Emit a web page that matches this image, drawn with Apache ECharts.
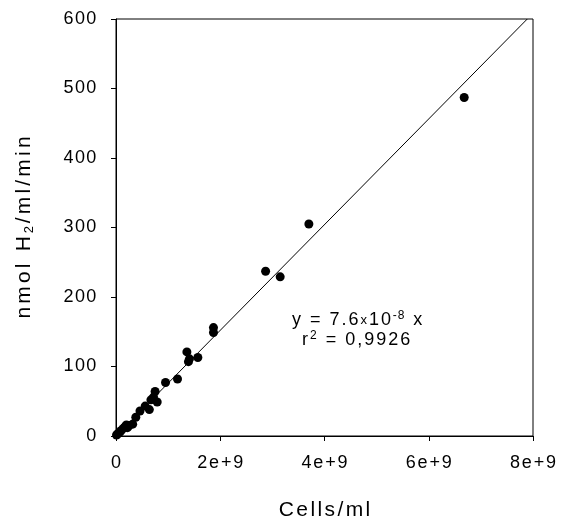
<!DOCTYPE html>
<html>
<head>
<meta charset="utf-8">
<script src="https://cdn.jsdelivr.net/npm/echarts@6/dist/echarts.min.js"></script>
<style>
  html, body { margin: 0; padding: 0; background: #fff; }
  #chart { width: 561px; height: 521px; }
</style>
</head>
<body>
<div id="chart"></div>
<script>
// cell density (cells/ml) and H2 production rate (nmol/ml/min)
var cellsX = [
  0.01e9, 0.03e9, 0.05e9, 0.08e9, 0.1e9, 0.14e9, 0.18e9, 0.2e9, 0.22e9, 0.25e9,
  0.32e9, 0.38e9, 0.46e9, 0.56e9, 0.64e9, 0.67e9, 0.72e9, 0.75e9, 0.79e9, 0.95e9,
  1.18e9, 1.36e9, 1.39e9, 1.41e9, 1.57e9, 1.87e9, 1.87e9, 2.87e9, 3.15e9, 3.70e9,
  6.68e9
];
var h2Rate = [
  1.5, 3, 4, 6, 8, 11, 14, 16, 12, 15,
  17, 27, 36, 43, 38, 52, 56, 64, 49, 77,
  82, 121, 107, 111, 113, 149, 156, 237, 229, 305,
  487
];
// regression line y = 7.6e-8 x, end points
var fitX = [0, 7.89e9];
var fitY = [0, 600];

var xTicks = ['0', '2e+9', '4e+9', '6e+9', '8e+9'];
var yTicks = ['0', '100', '200', '300', '400', '500', '600'];

var font = 'Liberation Sans, Arial, sans-serif';

// the original lettering is loosely spaced, so every character gets its own token
function track(str, key) {
  return str.split('').map(function (c) { return '{' + key + '|' + c + '}'; }).join('');
}
function st(size, pad, extra) {
  var s = { fontFamily: font, fontSize: size, color: '#000', fill: '#000', padding: [0, pad, 0, pad] };
  for (var k in extra) s[k] = extra[k];
  return s;
}

var chart = echarts.init(document.getElementById('chart'));

chart.setOption({
  backgroundColor: '#fff',
  animation: false,
  grid: {
    left: 116, top: 19, right: 28, bottom: 85,
    outerBoundsMode: 'none',
    containLabel: false,
    show: true, borderColor: '#000', borderWidth: 1
  },
  xAxis: {
    type: 'value',
    min: 0, max: 8e9, interval: 2e9,
    name: track('Cells/ml', 'n'),
    nameLocation: 'middle',
    nameGap: 64,
    nameTextStyle: { rich: { n: st(21, 1.2) } },
    axisLine: { lineStyle: { color: '#000', width: 1 } },
    axisTick: { inside: false, length: 5, lineStyle: { color: '#000' } },
    axisLabel: {
      margin: 18,
      rich: { t: st(18, 0.9) },
      formatter: function (v) { return track(xTicks[Math.round(v / 2e9)], 't'); }
    },
    splitLine: { show: false }
  },
  yAxis: {
    type: 'value',
    min: 0, max: 600, interval: 100,
    name: track('nmol H', 'n') + '{s|2}' + track('/ml/min', 'n'),
    nameLocation: 'middle',
    nameGap: 80,
    nameTextStyle: {
      rich: {
        n: st(21, 1.6),
        s: st(13, 1.2, { verticalAlign: 'bottom', padding: [10, 1.2, 0, 1.2] })
      }
    },
    axisLine: { lineStyle: { color: '#000', width: 1 } },
    axisTick: { inside: false, length: 5, lineStyle: { color: '#000' } },
    axisLabel: {
      margin: 19,
      rich: { t: st(18, 0.7) },
      formatter: function (v) { return track(yTicks[Math.round(v / 100)], 't'); }
    },
    splitLine: { show: false }
  },
  series: [
    {
      type: 'line',
      data: fitX.map(function (x, i) { return [x, fitY[i]]; }),
      symbol: 'none',
      lineStyle: { color: '#000', width: 1 },
      z: 1
    },
    {
      type: 'scatter',
      data: cellsX.map(function (x, i) { return [x, h2Rate[i]]; }),
      symbol: 'circle',
      symbolSize: 9,
      itemStyle: { color: '#000', opacity: 1 },
      z: 2
    }
  ],
  graphic: [
    {
      type: 'text', left: 292, top: 310,
      style: {
        text: track('y = 7.6', 'a') + '{b|x}' + track('10', 'a') + track('-8', 'c') + track(' x', 'a'),
        rich: {
          a: st(18, 1),
          b: st(13, 1),
          c: st(12, 0.6, { verticalAlign: 'top', padding: [0, 0.6, 9, 0.6] })
        }
      }
    },
    {
      type: 'text', left: 302, top: 330,
      style: {
        text: '{a|r}{c|2}' + track(' = 0,9926', 'a'),
        rich: {
          a: st(18, 1),
          c: st(12, 1, { verticalAlign: 'top', padding: [0, 1, 9, 1] })
        }
      }
    }
  ]
});
</script>
</body>
</html>
